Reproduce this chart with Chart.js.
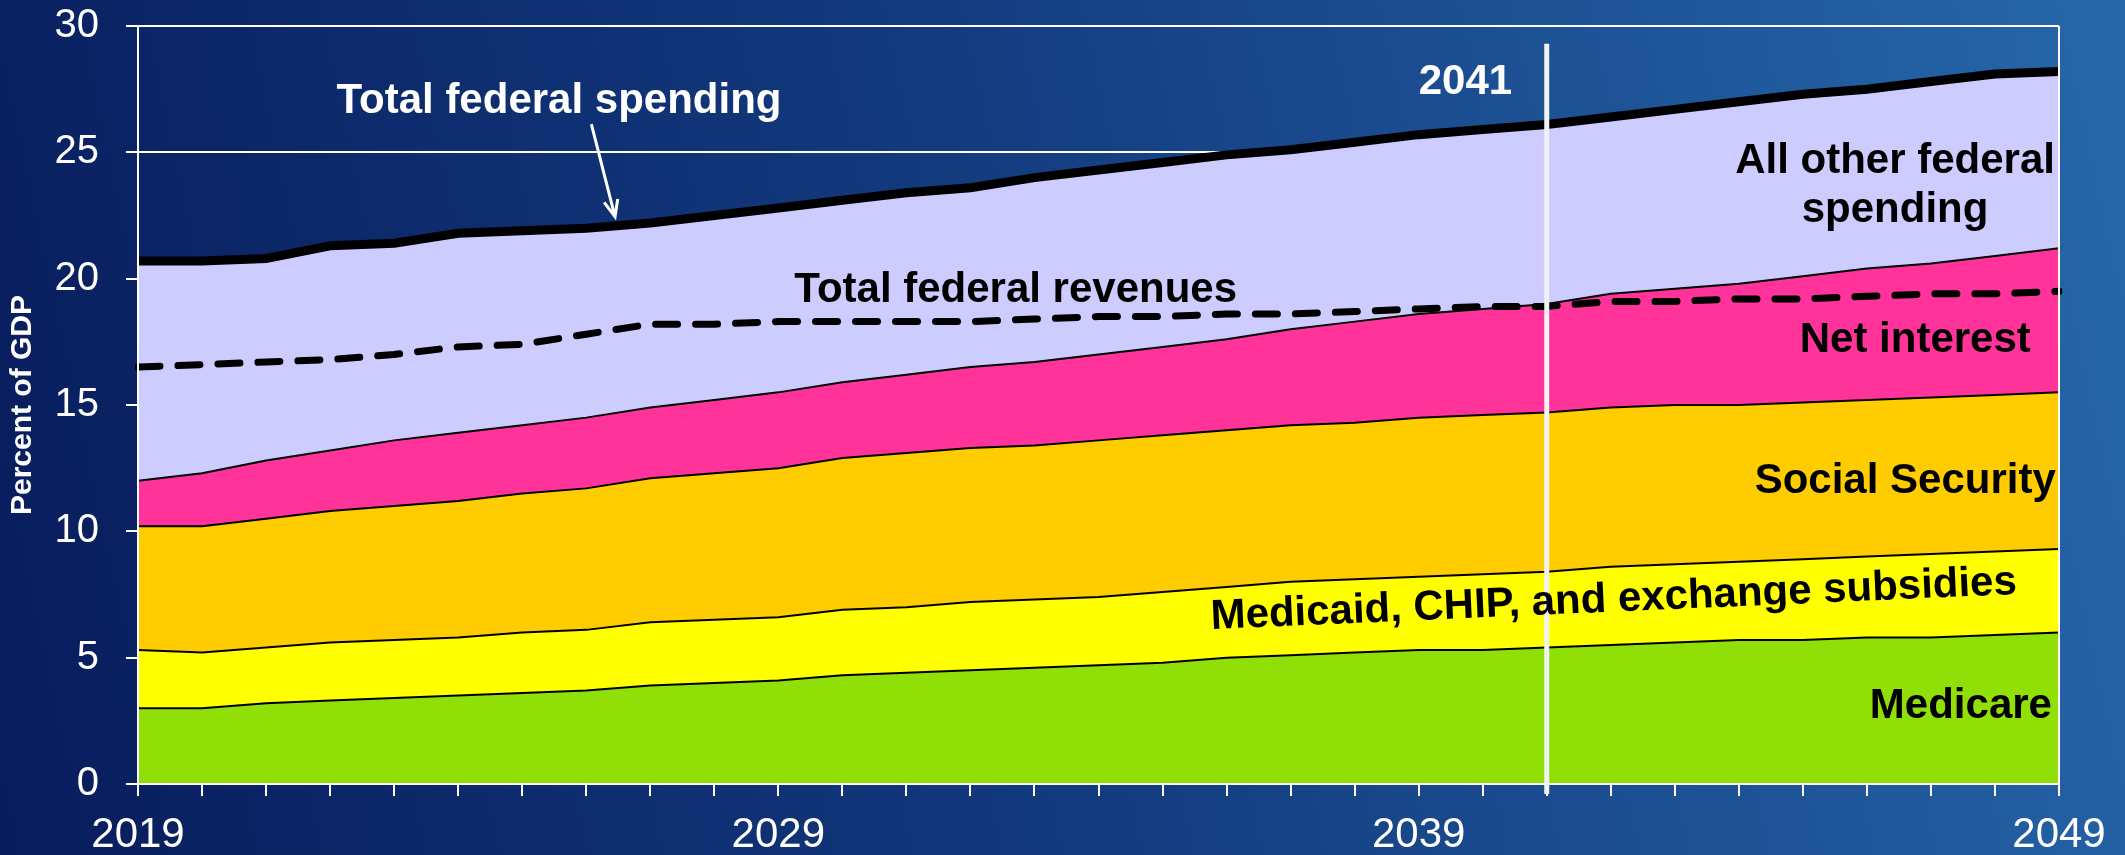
<!DOCTYPE html>
<html>
<head>
<meta charset="utf-8">
<script src="https://cdn.jsdelivr.net/npm/chart.js@4"></script>
<style>
  html, body { margin: 0; padding: 0; }
  body {
    width: 2125px; height: 855px; overflow: hidden;
    background: linear-gradient(78deg, #081c5c 0%, #12397c 45%, #2667aa 100%);
  }
  #wrap { position: relative; width: 2125px; height: 855px; }
</style>
</head>
<body>
<div id="wrap"><canvas id="chart"></canvas></div>
<script>
// years along the bottom
const years = ['2019','2020','2021','2022','2023','2024','2025','2026','2027','2028',
               '2029','2030','2031','2032','2033','2034','2035','2036','2037','2038',
               '2039','2040','2041','2042','2043','2044','2045','2046','2047','2048','2049'];
const xTickLabels = ['2019', '2029', '2039', '2049'];

// top edge of each stacked band, percent of GDP
const medicareTop = [3.0,3.0,3.2,3.3,3.4,3.5,3.6,3.7,3.9,4.0,
                     4.1,4.3,4.4,4.5,4.6,4.7,4.8,5.0,5.1,5.2,
                     5.3,5.3,5.4,5.5,5.6,5.7,5.7,5.8,5.8,5.9,6.0];
const medicaidTop = [5.3,5.2,5.4,5.6,5.7,5.8,6.0,6.1,6.4,6.5,
                     6.6,6.9,7.0,7.2,7.3,7.4,7.6,7.8,8.0,8.1,
                     8.2,8.3,8.4,8.6,8.7,8.8,8.9,9.0,9.1,9.2,9.3];
const socialSecTop = [10.2,10.2,10.5,10.8,11.0,11.2,11.5,11.7,12.1,12.3,
                      12.5,12.9,13.1,13.3,13.4,13.6,13.8,14.0,14.2,14.3,
                      14.5,14.6,14.7,14.9,15.0,15.0,15.1,15.2,15.3,15.4,15.5];
const interestTop = [12.0,12.3,12.8,13.2,13.6,13.9,14.2,14.5,14.9,15.2,
                     15.5,15.9,16.2,16.5,16.7,17.0,17.3,17.6,18.0,18.3,
                     18.6,18.8,19.0,19.4,19.6,19.8,20.1,20.4,20.6,20.9,21.2];
const totalSpending = [20.7,20.7,20.8,21.3,21.4,21.8,21.9,22.0,22.2,22.5,
                       22.8,23.1,23.4,23.6,24.0,24.3,24.6,24.9,25.1,25.4,
                       25.7,25.9,26.1,26.4,26.7,27.0,27.3,27.5,27.8,28.1,28.2];
const totalRevenues = [16.5,16.6,16.7,16.8,17.0,17.3,17.4,17.8,18.2,18.2,
                       18.3,18.3,18.3,18.3,18.4,18.5,18.5,18.6,18.6,18.7,
                       18.8,18.9,18.9,19.1,19.1,19.2,19.2,19.3,19.4,19.4,19.5];

const markerYear = '2041';

Chart.defaults.font.family = "'Liberation Sans', Arial, sans-serif";
Chart.defaults.color = '#ffffff';

function band(label, data, color, fill) {
  return {
    label: label, data: data, fill: fill,
    backgroundColor: color, borderColor: '#000000', borderWidth: 2,
    pointRadius: 0, tension: 0
  };
}

// labels, arrow, 2041 marker and axis lines drawn over the areas
const notes = {
  id: 'notes',
  afterDatasetsDraw(chart) {
    const {ctx, chartArea: a, scales: {x, y}} = chart;
    const px = yr => x.getPixelForValue(yr - Number(years[0]));
    const py = v => y.getPixelForValue(v);

    ctx.save();
    // axis frame
    ctx.strokeStyle = '#ffffff';
    ctx.lineWidth = 2;
    ctx.beginPath();
    ctx.moveTo(a.left, a.top); ctx.lineTo(a.left, a.bottom);
    ctx.lineTo(a.right, a.bottom); ctx.lineTo(a.right, a.top);
    ctx.stroke();

    // 2041 marker
    const mx = px(Number(markerYear));
    ctx.strokeStyle = '#f2f2f2';
    ctx.lineWidth = 5;
    ctx.beginPath();
    ctx.moveTo(mx, py(29.3));
    ctx.lineTo(mx, a.bottom + 10);
    ctx.stroke();

    const text = (s, xv, yv, color, align, rot) => {
      ctx.save();
      ctx.font = "bold 42px 'Liberation Sans', Arial, sans-serif";
      ctx.fillStyle = color;
      ctx.textAlign = align;
      ctx.textBaseline = 'alphabetic';
      ctx.translate(px(xv), py(yv));
      if (rot) ctx.rotate(rot * Math.PI / 180);
      ctx.fillText(s, 0, 0);
      ctx.restore();
    };

    text('Total federal spending', 2022.1, 26.55, '#ffffff', 'left');
    text(markerYear, 2039.0, 27.3, '#ffffff', 'left');
    text('Total federal revenues', 2029.25, 19.07, '#000000', 'left');
    text('All other federal', 2046.44, 24.18, '#000000', 'center');
    text('spending', 2046.44, 22.24, '#000000', 'center');
    text('Net interest', 2048.56, 17.1, '#000000', 'right');
    text('Social Security', 2048.95, 11.52, '#000000', 'right');
    text('Medicaid, CHIP, and exchange subsidies', 2035.76, 6.13, '#000000', 'left', -2.5);
    text('Medicare', 2048.89, 2.61, '#000000', 'right');

    // arrow to the spending line
    const x1 = px(2026.08), y1 = py(26.12), x2 = px(2026.45), y2 = py(22.45);
    const ang = Math.atan2(y2 - y1, x2 - x1);
    ctx.strokeStyle = '#ffffff';
    ctx.lineWidth = 3;
    ctx.beginPath();
    ctx.moveTo(x1, y1); ctx.lineTo(x2, y2);
    ctx.moveTo(x2 - 18 * Math.cos(ang - 0.4), y2 - 18 * Math.sin(ang - 0.4));
    ctx.lineTo(x2, y2);
    ctx.lineTo(x2 - 18 * Math.cos(ang + 0.4), y2 - 18 * Math.sin(ang + 0.4));
    ctx.stroke();
    ctx.restore();
  }
};

new Chart(document.getElementById('chart'), {
  type: 'line',
  data: {
    labels: years,
    datasets: [
      band('Medicare', medicareTop, '#90df06', 'origin'),
      band('Medicaid, CHIP, and exchange subsidies', medicaidTop, '#ffff00', '-1'),
      band('Social Security', socialSecTop, '#ffcc00', '-1'),
      band('Net interest', interestTop, '#ff3399', '-1'),
      {
        label: 'Total federal spending', data: totalSpending, fill: '-1',
        backgroundColor: '#ccccff', borderColor: '#000000', borderWidth: 9,
        pointRadius: 0, tension: 0
      },
      {
        label: 'Total federal revenues', data: totalRevenues, fill: false,
        borderColor: '#000000', borderWidth: 7, borderDash: [22, 18],
        borderCapStyle: 'round', pointRadius: 0, tension: 0, order: -1
      }
    ]
  },
  options: {
    responsive: true,
    maintainAspectRatio: false,
    animation: false,
    layout: { padding: { top: 0, right: 66, left: 0, bottom: 0 } },
    plugins: { legend: { display: false }, tooltip: { enabled: false } },
    scales: {
      x: {
        afterFit: s => { s.height = 71; },
        grid: { drawOnChartArea: false, color: '#ffffff', lineWidth: 2, tickLength: 12 },
        border: { display: false },
        ticks: {
          autoSkip: false, maxRotation: 0, padding: 14,
          color: '#ffffff', font: { size: 42 },
          callback: function (v) {
            const lab = this.getLabelForValue(v);
            return xTickLabels.includes(lab) ? lab : '';
          }
        }
      },
      y: {
        min: 0, max: 30,
        afterFit: s => { s.width = 138; s.paddingTop = 26; s.paddingBottom = 24; },
        grid: { color: '#ffffff', lineWidth: 2, tickLength: 12 },
        border: { display: false },
        ticks: { stepSize: 5, padding: 27, color: '#ffffff', font: { size: 40 } },
        title: {
          display: true, text: 'Percent of GDP', color: '#ffffff',
          font: { size: 30, weight: 'bold' }, padding: { top: 5, bottom: 0 }
        }
      }
    }
  },
  plugins: [notes]
});
</script>
</body>
</html>
